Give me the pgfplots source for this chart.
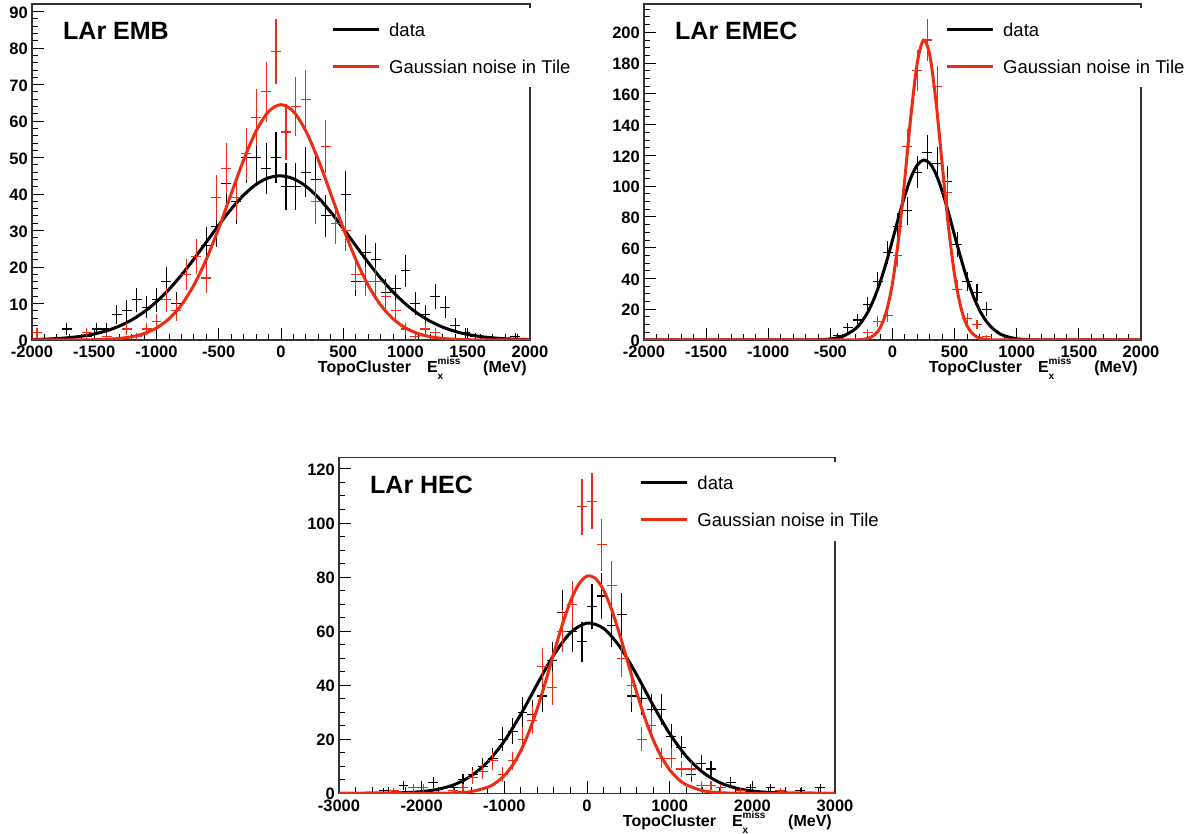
\documentclass[border=0pt]{standalone}
\usepackage{fontspec}
\setmainfont{Liberation Sans}
\usepackage{pgfplots}
\usepackage{pgfplotstable}
\pgfplotsset{compat=1.18}
\definecolor{rootred}{RGB}{238,44,20}

\pgfplotstableread{
x y e
-1720 3 1.73
-1560 1 1
-1480 3 1.73
-1400 3 1.73
-1320 7 2.65
-1240 8 2.83
-1160 11 3.32
-1080 9 3
-1000 11 3.32
-920 16 4
-840 10 3.16
-760 18 4.24
-680 23 4.80
-600 26 5.10
-520 31 5.57
-440 43 6.56
-360 38 6.16
-280 50 7.07
-200 50 7.07
-120 47 6.86
-40 50 7.07
40 42 6.48
120 42 6.48
200 46 6.78
280 44 6.63
360 34 5.83
440 32 5.66
520 40 6.32
600 16 4
680 24 4.90
760 22 4.69
840 13 3.61
920 14 3.74
1000 19 4.36
1080 10 3.16
1160 7 2.65
1240 12 3.46
1320 9 3
1400 4 2
1480 2 1.41
1560 1 1
1880 1 1
}\embblack

\pgfplotstableread{
x y e
-1960 2 1.41
-1560 2 1.41
-1400 1 1
-1240 3 1.73
-1160 1 1
-1080 3 1.73
-1000 5 2.24
-920 11 3.32
-840 8 2.83
-760 18 4.24
-680 23 4.80
-600 17 4.12
-520 39 6.24
-440 47 6.86
-360 39 6.24
-280 51 7.14
-200 61 7.81
-120 68 8.25
-40 79 8.89
40 57 7.55
120 64 8
200 66 8.12
280 38 6.16
360 53 7.28
440 32 5.66
520 30 5.48
600 18 4.24
680 16 4
760 16 4
840 12 3.46
920 8 2.83
1000 3 1.73
1080 1 1
1160 3 1.73
1240 2 1.41
}\embred

\pgfplotstableread{
x y e
-440 3 1.73
-360 8 2.83
-280 13 3.61
-200 23 4.80
-120 38 6.16
-40 57 7.55
40 74 8.60
120 84 9.17
200 109 10.44
280 122 11.05
360 115 10.72
440 103 10.15
520 62 7.87
600 38 6.16
680 31 5.57
760 20 4.47
}\emecblack

\pgfplotstableread{
x y e
-200 5 2.24
-120 12 3.46
-40 16 4
40 55 7.42
120 126 11.22
200 175 13.23
280 195 13.96
360 165 12.85
440 96 9.80
520 33 5.74
600 14 3.74
680 10 3.16
760 2 1.41
}\emecred

\pgfplotstableread{
x y e
-2460 1 1
-2220 3 1.73
-1860 4 2
-1620 2 1.41
-1500 5 2.24
-1380 7 2.65
-1260 10 3.16
-1140 13 3.61
-1020 20 4.47
-900 23 4.80
-780 30 5.48
-660 29 5.39
-540 36 6
-420 49 7
-300 67 8.19
-180 60 7.75
-60 56 7.48
60 69 8.31
180 73 8.54
300 62 7.87
420 66 8.12
540 36 6
660 35 5.92
780 31 5.57
900 31 5.57
1020 21 4.58
1140 17 4.12
1260 7 2.65
1380 11 3.32
1500 9 3
1620 2 1.41
1740 4 2
1860 1 1
1980 2 1.41
2220 2 1.41
2580 1 1
2820 2 1.41
}\hecblack

\pgfplotstableread{
x y e
-2340 1 1
-2100 2 1.41
-1980 2 1.41
-1620 1 1
-1500 2 1.41
-1380 6 2.45
-1260 8 2.83
-1140 12 3.46
-1020 7 2.65
-900 12 3.46
-780 20 4.47
-660 27 5.20
-540 47 6.86
-420 39 6.24
-300 60 7.75
-180 70 8.37
-60 106 10.30
60 108 10.39
180 92 9.59
300 77 8.77
420 50 7.07
540 40 6.32
660 20 4.47
780 25 5
900 13 3.61
1020 13 3.61
1140 9 3
1260 9 3
1380 3 1.73
1500 3 1.73
1620 2 1.41
1860 1 1
2340 1 1
}\hecred

\pgfplotsset{
  rootaxis/.style={
    scale only axis,
    anchor=south west,
    height=336pt,
    xtick pos=bottom, ytick pos=left,
    tick align=inside,
    major tick length=12pt, minor tick length=6pt,
    tick style={black, line width=0.9pt},
    axis line style={draw=black!80, line width=1.2pt},
    tick label style={font=\fontsize{16.5}{16.5}\selectfont\bfseries},
    /pgf/number format/assume math mode=true,
    /pgf/number format/1000 sep={},
    xticklabel style={inner sep=0pt, yshift=-6pt},
    yticklabel style={inner sep=0pt, xshift=-4pt, yshift=-1pt},
    title style={at={(axis description cs:0,1)}, anchor=base west, xshift=31pt, yshift=-42pt,
      font=\fontsize{25}{25}\selectfont\bfseries, inner sep=0pt},
    xlabel={TopoCluster\hspace{16pt}E\rlap{\raisebox{8pt}{\fontsize{10}{10}\selectfont\bfseries miss}}\raisebox{-7pt}{\fontsize{10}{10}\selectfont\bfseries x}\hspace{40pt}(MeV)},
    xlabel style={at={(axis description cs:1,0)}, anchor=base east, xshift=-3pt, yshift=-33pt,
      font=\fontsize{16}{16}\selectfont\bfseries, inner sep=0pt},
    legend cell align=left,
    legend image code/.code={\draw[#1] (0pt,0pt) -- (46pt,0pt);},
    legend style={anchor=north west, draw=none, fill=white, inner xsep=0pt, inner ysep=6pt,
      font=\fontsize{18.5}{18.5}\selectfont, row sep=7pt,
      nodes={inner sep=0pt, text height=22pt, text depth=8pt},
      /tikz/every odd column/.append style={column sep=9pt}},
  },
  dataerr/.style 2 args={draw=none, mark=none, forget plot,
    error bars/.cd, x dir=both, x fixed=#1, y dir=both, y explicit, error mark=none,
    error bar style={line width=1.1pt, draw=#2, solid}},
  fitline/.style={line width=3pt, smooth, mark=none},
}

\begin{document}
\begin{tikzpicture}
\useasboundingbox (0,0) rectangle (1194pt,834pt);

% ---------------- LAr EMB ----------------
\begin{axis}[rootaxis, at={(32pt,494pt)}, width=498pt,
  xmin=-2000, xmax=2000, ymin=0, ymax=92.1,
  xtick={-2000,-1500,...,2000}, minor xtick={-2000,-1900,...,2000},
  ytick={0,10,...,90}, minor ytick={0,2,...,92},
  title={LAr EMB},
  legend style={at={(axis description cs:0.6004,0.988)}}]
\addplot[dataerr={40}{black}] table[x=x, y=y, y error=e] {\embblack};
\addplot[black, fitline] coordinates {(-2000,0.125) (-1900,0.222) (-1800,0.385) (-1700,0.645) (-1600,1.050) (-1500,1.660) (-1400,2.547) (-1300,3.794) (-1200,5.484) (-1100,7.70) (-1000,10.49) (-900,13.86) (-800,17.80) (-700,22.18) (-600,26.82) (-500,31.50) (-400,35.90) (-300,39.71) (-200,42.65) (-100,44.46) (0,44.99) (100,44.20) (200,42.15) (300,39.01) (400,35.05) (500,30.57) (600,25.88) (700,21.27) (800,16.97) (900,13.14) (1000,9.88) (1100,7.21) (1200,5.11) (1300,3.51) (1400,2.34) (1500,1.52) (1600,0.955) (1700,0.583) (1800,0.346) (1900,0.199) (2000,0.111)};
\addlegendentry{data}
\addplot[dataerr={40}{rootred}] table[x=x, y=y, y error=e] {\embred};
\addplot[rootred, fitline] coordinates {(-2000,0.0004) (-1900,0.0014) (-1800,0.0042) (-1700,0.012) (-1600,0.032) (-1500,0.080) (-1400,0.190) (-1300,0.423) (-1200,0.890) (-1100,1.764) (-1000,3.295) (-900,5.797) (-800,9.61) (-700,15.02) (-600,22.11) (-500,30.66) (-400,40.07) (-300,49.35) (-200,57.26) (-100,62.61) (0,64.5) (100,62.61) (200,57.26) (300,49.35) (400,40.07) (500,30.66) (600,22.11) (700,15.02) (800,9.61) (900,5.797) (1000,3.295) (1100,1.764) (1200,0.890) (1300,0.423) (1400,0.190) (1500,0.080) (1600,0.032) (1700,0.012) (1800,0.0042) (1900,0.0014) (2000,0.0004)};
\addlegendentry{Gaussian noise in Tile}
\end{axis}

% ---------------- LAr EMEC ----------------
\begin{axis}[rootaxis, at={(644pt,494pt)}, width=497pt,
  xmin=-2000, xmax=2000, ymin=0, ymax=218.4,
  xtick={-2000,-1500,...,2000}, minor xtick={-2000,-1900,...,2000},
  ytick={0,20,...,200}, minor ytick={0,5,...,215},
  title={LAr EMEC},
  legend style={at={(axis description cs:0.6056,0.988)}}]
\addplot[dataerr={40}{black}] table[x=x, y=y, y error=e] {\emecblack};
\addplot[black, fitline] coordinates {(-2000,0) (-1500,0) (-1000,0) (-800,0.005) (-700,0.030) (-600,0.156) (-500,0.671) (-400,2.41) (-300,7.19) (-250,11.62) (-200,17.96) (-150,26.50) (-100,37.38) (-50,50.40) (0,64.93) (50,79.97) (100,94.12) (150,105.9) (200,113.8) (250,116.97) (300,114.9) (350,107.8) (400,96.7) (450,82.9) (500,67.9) (550,53.2) (600,39.8) (650,28.5) (700,19.5) (750,12.7) (800,7.95) (850,4.74) (900,2.71) (1000,0.769) (1100,0.182) (1200,0.036) (1300,0.006) (1500,0) (2000,0)};
\addlegendentry{data}
\addplot[dataerr={40}{rootred}] table[x=x, y=y, y error=e] {\emecred};
\addplot[rootred, fitline] coordinates {(-2000,0) (-1500,0) (-1000,0) (-500,0) (-400,0.004) (-300,0.075) (-250,0.29) (-200,0.99) (-150,2.97) (-100,7.83) (-50,18.18) (0,37.1) (50,66.7) (100,105.6) (150,147.2) (200,180.5) (250,194.9) (300,185.2) (350,154.9) (400,114.1) (450,73.9) (500,42.2) (550,21.2) (600,9.36) (650,3.64) (700,1.25) (750,0.376) (800,0.10) (900,0.005) (1000,0) (1500,0) (2000,0)};
\addlegendentry{Gaussian noise in Tile}
\end{axis}

% ---------------- LAr HEC ----------------
\begin{axis}[rootaxis, at={(339pt,40.7pt)}, width=496pt,
  xmin=-3000, xmax=3000, ymin=0, ymax=124.3,
  xtick={-3000,-2000,...,3000}, minor xtick={-3000,-2800,...,3000},
  ytick={0,20,...,120}, minor ytick={0,5,...,120},
  title={LAr HEC},
  legend style={at={(axis description cs:0.6054,0.988)}}]
\addplot[dataerr={60}{black}] table[x=x, y=y, y error=e] {\hecblack};
\addplot[black, fitline] coordinates {(-3000,0.0023) (-2800,0.0084) (-2600,0.028) (-2400,0.088) (-2200,0.247) (-2000,0.639) (-1800,1.511) (-1600,3.27) (-1400,6.46) (-1200,11.68) (-1000,19.33) (-800,29.25) (-600,40.49) (-400,51.27) (-200,59.40) (0,62.94) (200,61.00) (400,54.09) (600,43.87) (800,32.55) (1000,22.09) (1200,13.72) (1400,7.79) (1600,4.04) (1800,1.922) (2000,0.835) (2200,0.332) (2400,0.121) (2600,0.040) (2800,0.012) (3000,0.0034)};
\addlegendentry{data}
\addplot[dataerr={60}{rootred}] table[x=x, y=y, y error=e] {\hecred};
\addplot[rootred, fitline] coordinates {(-3000,0) (-2500,0) (-2000,0.005) (-1800,0.029) (-1600,0.151) (-1400,0.642) (-1200,2.256) (-1100,3.94) (-1000,6.56) (-900,10.42) (-800,15.81) (-700,22.86) (-600,31.52) (-500,41.45) (-400,52.00) (-300,62.23) (-200,71.04) (-100,77.35) (0,80.33) (100,79.57) (200,75.19) (300,67.77) (400,58.25) (500,47.77) (600,37.36) (700,27.87) (800,19.84) (900,13.46) (1000,8.72) (1100,5.38) (1200,3.17) (1400,0.955) (1600,0.238) (1800,0.049) (2000,0.008) (2500,0) (3000,0)};
\addlegendentry{Gaussian noise in Tile}
\end{axis}
\end{tikzpicture}
\end{document}
